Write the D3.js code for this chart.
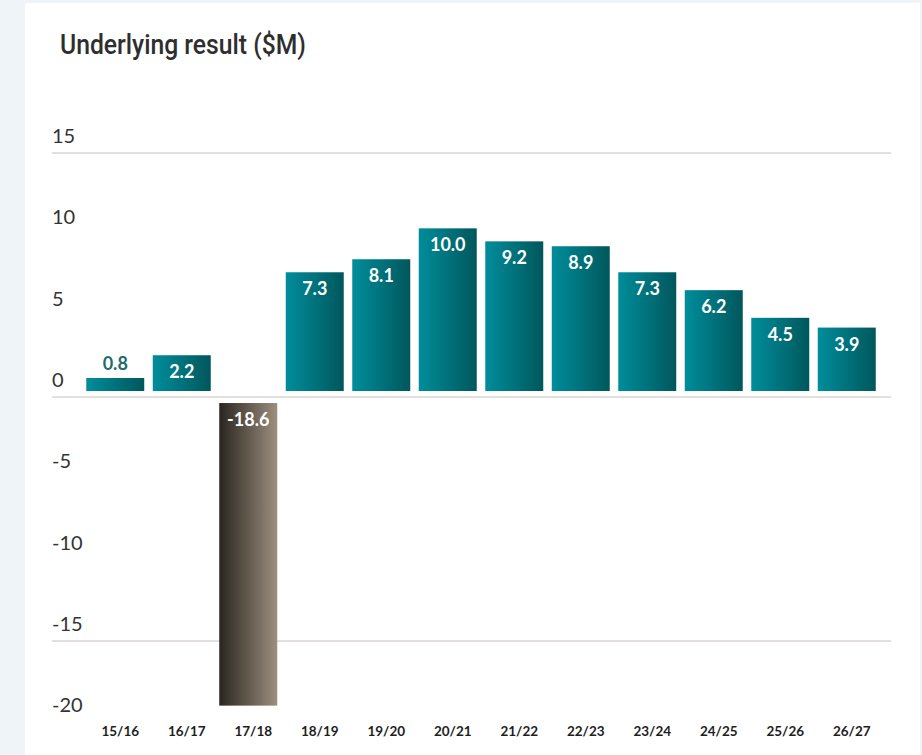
<!DOCTYPE html>
<html>
<head>
<meta charset="utf-8">
<script src="https://cdn.jsdelivr.net/npm/d3@7"></script>
<style>
  html, body { margin: 0; padding: 0; background: #eef4f8; }
  svg { display: block; }
</style>
</head>
<body>
<svg id="chart" width="922" height="755"></svg>
<script>
// ---- data ----
const categories = ["15/16","16/17","17/18","18/19","19/20","20/21","21/22","22/23","23/24","24/25","25/26","26/27"];
const values = [0.8, 2.2, -18.6, 7.3, 8.1, 10.0, 9.2, 8.9, 7.3, 6.2, 4.5, 3.9];
const valueLabels = ["0.8","2.2","-18.6","7.3","8.1","10.0","9.2","8.9","7.3","6.2","4.5","3.9"];
const yTicks = [15, 10, 5, 0, -5, -10, -15, -20];
const gridTicks = [15, 0, -15];
const title = "Underlying result ($M)";

const svg = d3.select("#chart");

// panel
svg.append("rect").attr("x", 25).attr("y", 3).attr("width", 895).attr("height", 752).attr("fill", "#ffffff");

const defs = svg.append("defs");
const gPos = defs.append("linearGradient").attr("id", "gPos").attr("x1", "0%").attr("x2", "100%").attr("y1", "0%").attr("y2", "0%");
gPos.append("stop").attr("offset", "0%").attr("stop-color", "#008d9b");
gPos.append("stop").attr("offset", "100%").attr("stop-color", "#00575c");
const gNeg = defs.append("linearGradient").attr("id", "gNeg").attr("x1", "0%").attr("x2", "100%").attr("y1", "0%").attr("y2", "0%");
gNeg.append("stop").attr("offset", "0%").attr("stop-color", "#29251f");
gNeg.append("stop").attr("offset", "100%").attr("stop-color", "#9c8f7e");

// scales
const y = d3.scaleLinear().domain([-20, 15]).range([722.4, 153]);
const x = d3.scaleBand().domain(categories).range([82, 880]).paddingInner(0.128).paddingOuter(0.064);

// title
svg.append("text")
  .attr("x", 60).attr("y", 54)
  .attr("font-family", "Roboto, 'DejaVu Sans Condensed', sans-serif")
  .attr("font-weight", 500)
  .attr("font-size", 27)
  .attr("fill", "#2e2e2e")
  .attr("textLength", 246)
  .attr("lengthAdjust", "spacingAndGlyphs")
  .text(title);

// gridlines
svg.append("g").selectAll("line").data(gridTicks).join("line")
  .attr("x1", 52).attr("x2", 891)
  .attr("y1", d => y(d)).attr("y2", d => y(d))
  .attr("stroke", "#d9d5d0").attr("stroke-width", 1.5);

// y tick labels (placed above their value line)
svg.append("g").selectAll("text").data(yTicks).join("text")
  .attr("x", 52).attr("y", d => y(d) - 10)
  .attr("font-family", "Lato, 'Open Sans', sans-serif")
  .attr("font-size", 20)
  .attr("fill", "#333333")
  .text(d => d);

// bars
const gap = 6;
const bars = categories.map((c, i) => ({ c, v: values[i], label: valueLabels[i] }));
svg.append("g").selectAll("rect").data(bars).join("rect")
  .attr("x", d => x(d.c))
  .attr("width", x.bandwidth())
  .attr("y", d => d.v >= 0 ? y(d.v) - gap : y(0) + gap)
  .attr("height", d => Math.abs(y(d.v) - y(0)))
  .attr("fill", d => d.v >= 0 ? "url(#gPos)" : "url(#gNeg)");

// value labels
svg.append("g").selectAll("text").data(bars).join("text")
  .attr("x", d => x(d.c) + x.bandwidth() / 2)
  .attr("y", d => {
    const h = Math.abs(y(d.v) - y(0));
    if (d.v >= 0) return h < 22 ? y(d.v) - gap - 8 : y(d.v) - gap + 23;
    return y(0) + gap + 23;
  })
  .attr("text-anchor", "middle")
  .attr("font-family", "Lato, 'Open Sans', sans-serif")
  .attr("font-weight", 700)
  .attr("font-size", 18)
  .attr("fill", d => (d.v >= 0 && Math.abs(y(d.v) - y(0)) < 22) ? "#1d6c70" : "#ffffff")
  .text(d => d.label);

// x category labels
svg.append("g").selectAll("text").data(categories).join("text")
  .attr("x", d => x(d) + x.bandwidth() / 2 + 5)
  .attr("y", 736)
  .attr("text-anchor", "middle")
  .attr("font-family", "Lato, 'Open Sans', sans-serif")
  .attr("font-weight", 700)
  .attr("font-size", 13.5)
  .attr("fill", "#1e1e1e")
  .text(d => d);
</script>
</body>
</html>
